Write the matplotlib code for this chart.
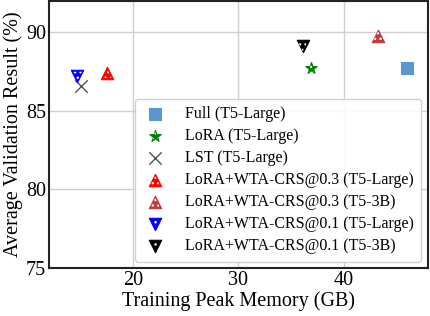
import matplotlib
matplotlib.use('Agg')
import matplotlib.pyplot as plt

plt.rcParams['font.family'] = ['Liberation Serif', 'DejaVu Serif']
plt.rcParams['hatch.linewidth'] = 1.0
plt.rcParams['hatch.color'] = 'white'

labels = ['Full (T5-Large)', 'LoRA (T5-Large)', 'LST (T5-Large)',
          'LoRA+WTA-CRS@0.3 (T5-Large)', 'LoRA+WTA-CRS@0.3 (T5-3B)',
          'LoRA+WTA-CRS@0.1 (T5-Large)', 'LoRA+WTA-CRS@0.1 (T5-3B)']
memory = [46.0, 36.9, 15.0, 17.5, 43.3, 14.7, 36.1]
accuracy = [87.7, 87.7, 86.6, 87.4, 89.8, 87.2, 89.1]

markers = ['s', '*', 'x', '^', '^', 'v', 'v']
colors = ['#5b96cf', 'green', '#555555', 'red', '#c23b3b', 'blue', 'black']
sizes = [75, 75, 80, 80, 80, 80, 80]
hatched = [False, True, False, True, True, True, True]

fig, ax = plt.subplots(figsize=(4.3, 3.16), dpi=100)
handles = []
for i in range(len(labels)):
    if markers[i] == 'x':
        h = ax.scatter(memory[i], accuracy[i], marker='x', s=sizes[i], color=colors[i],
                       linewidths=1.0, zorder=3)
    else:
        h = ax.scatter(memory[i], accuracy[i], marker=markers[i], s=sizes[i],
                       facecolor=colors[i], edgecolor=colors[i],
                       linewidths=0.8, zorder=3)
        if hatched[i]:
            # white dotted texture on top of the filled marker
            h2 = ax.scatter(memory[i], accuracy[i], marker=markers[i], s=sizes[i] * 0.55,
                            facecolor='none', edgecolor='white', hatch='...',
                            linewidths=0, zorder=4)
            h = (h, h2)
    handles.append(h)

ax.set_xlim(12, 48)
ax.set_ylim(75, 92)
ax.set_xticks([20, 30, 40])
ax.set_yticks([75, 80, 85, 90])
ax.tick_params(labelsize=14.5, length=0, pad=2)
ax.grid(True, color='#d0d0d0', linewidth=1.0)
ax.set_axisbelow(True)
for s in ax.spines.values():
    s.set_linewidth(1.5)
    s.set_color('#222222')
ax.set_xlabel('Training Peak Memory (GB)', fontsize=14.5, labelpad=1)
ax.set_ylabel('Average Validation Result (%)', fontsize=14.5, labelpad=2)
ax.legend(handles, labels, loc='lower right', fontsize=11.5, frameon=True,
          borderpad=0.45, labelspacing=0.38, handlelength=1.6, handletextpad=1.1,
          borderaxespad=0.4, framealpha=0.9)

fig.subplots_adjust(left=0.114, right=0.995, top=0.997, bottom=0.152)
fig.savefig('out.png')
